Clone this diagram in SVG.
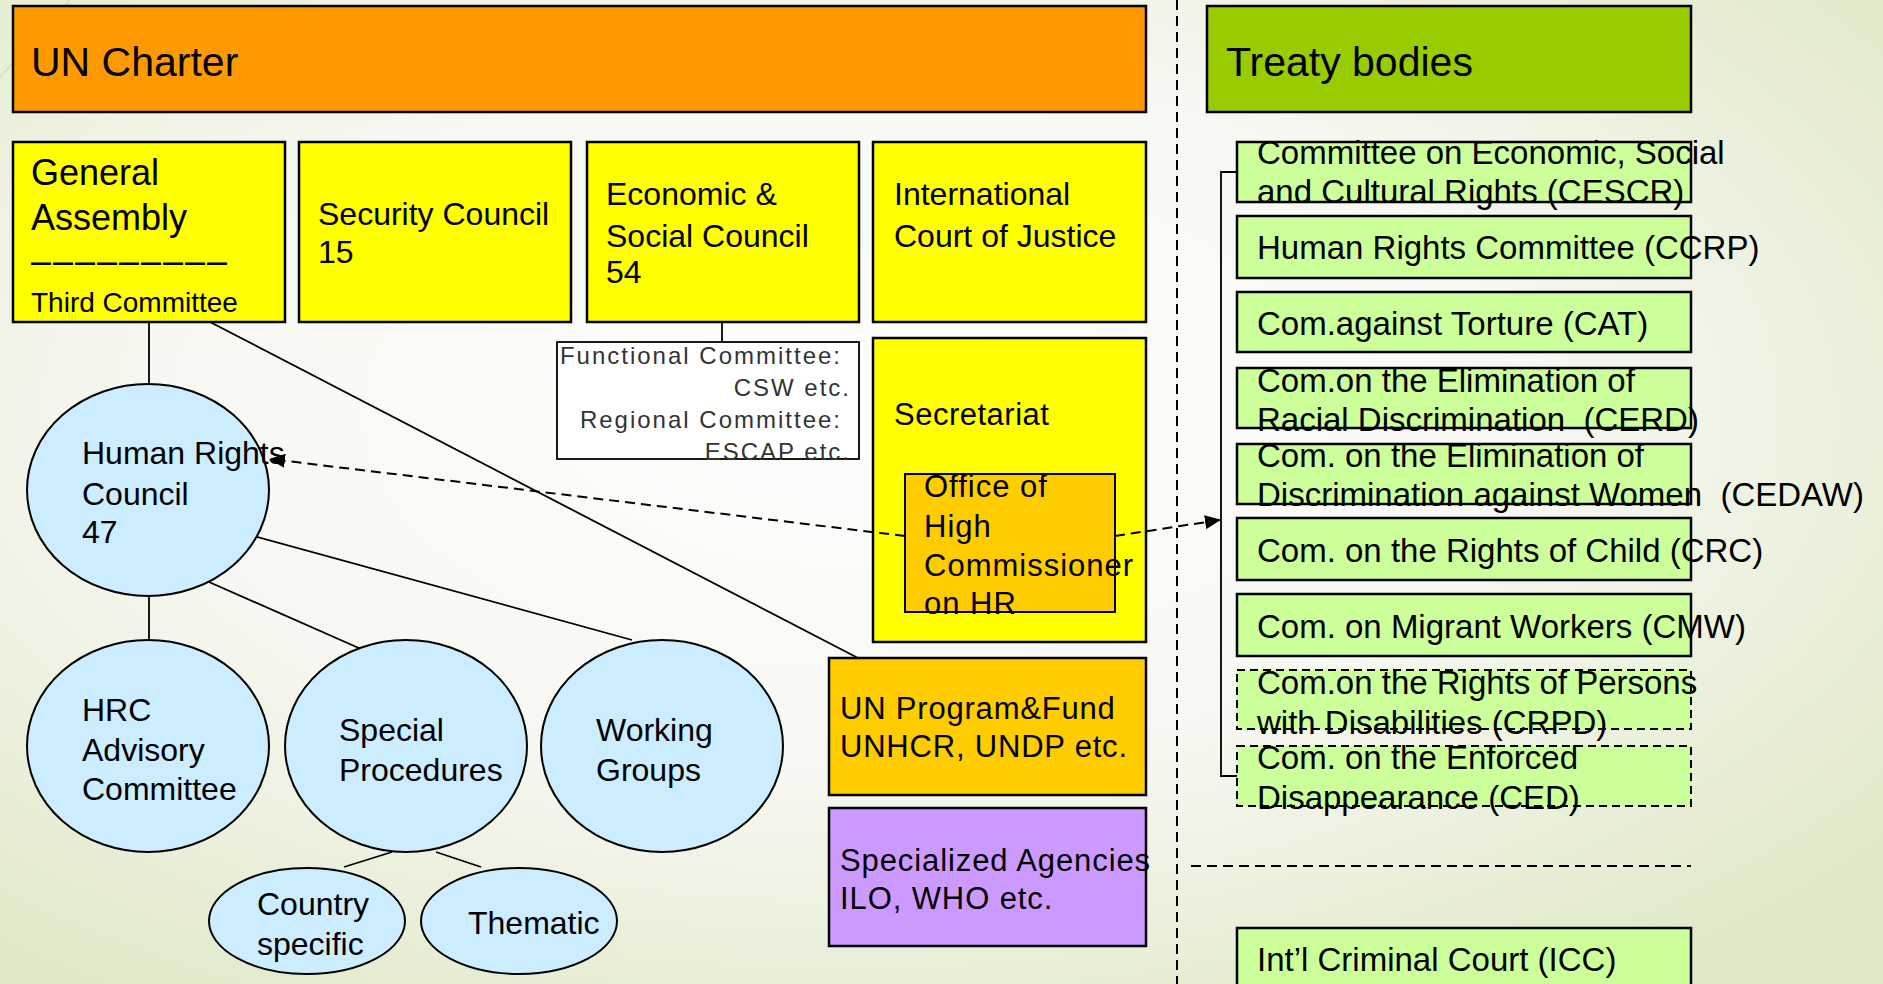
<svg xmlns="http://www.w3.org/2000/svg" width="1883" height="984" viewBox="0 0 1883 984">
<defs>
<radialGradient id="bg" cx="0.45" cy="0.42" r="0.72">
<stop offset="0" stop-color="#fefefd"/>
<stop offset="0.5" stop-color="#f7f8f2"/>
<stop offset="1" stop-color="#dfe8c6"/>
</radialGradient>
<marker id="arr" viewBox="0 0 16 14" refX="15" refY="7" markerWidth="16" markerHeight="14" markerUnits="userSpaceOnUse" orient="auto">
<path d="M0,0 L16,7 L0,14 z" fill="#000"/>
</marker>
<style>
text{font-family:"Liberation Sans",Arial,sans-serif;fill:#000}
.box{stroke:#000;stroke-width:2.5}
.ell{fill:#CCECFF;stroke:#000;stroke-width:2}
.t32{font-size:32px}
.t31{font-size:31px}
.com{font-size:33px}
.tb{fill:#CCFF99;stroke:#000;stroke-width:2.5}
.tbd{fill:#CCFF99;stroke:#000;stroke-width:2;stroke-dasharray:8 5}
.ln{stroke:#000;stroke-width:1.8;fill:none}
.dl{stroke:#000;stroke-width:2;fill:none;stroke-dasharray:10 6}
.fc{font-size:24px;fill:#333;letter-spacing:2px}
</style>
</defs>
<rect x="0" y="0" width="1883" height="984" fill="url(#bg)"/>
<line x1="0" y1="77" x2="70" y2="0" stroke="#d6dacb" stroke-width="1.5"/>

<g id="separators">
<line class="dl" x1="1177" y1="0" x2="1177" y2="984"/>
<line class="dl" x1="1191" y1="866" x2="1691" y2="866"/>
</g>

<g id="un-charter">
<rect class="box" x="13" y="6" width="1133" height="106" fill="#FF9900"/>
<text x="31" y="76" font-size="41">UN Charter</text>
</g>

<g id="general-assembly">
<rect class="box" x="13" y="142" width="272" height="180" fill="#FFFF00"/>
<text x="31" y="185" font-size="36">General</text>
<text x="31" y="230" font-size="36">Assembly</text>
<text x="31" y="273" font-size="36" textLength="196" lengthAdjust="spacing">–––––––––</text>
<text x="31" y="312" font-size="28">Third Committee</text>
</g>

<g id="security-council">
<rect class="box" x="299" y="142" width="272" height="180" fill="#FFFF00"/>
<text class="t32" x="318" y="225">Security Council</text>
<text class="t32" x="318" y="263">15</text>
</g>

<g id="ecosoc">
<rect class="box" x="587" y="142" width="272" height="180" fill="#FFFF00"/>
<text class="t32" x="606" y="205">Economic &amp;</text>
<text class="t32" x="606" y="247">Social Council</text>
<text class="t32" x="606" y="283">54</text>
</g>

<g id="icj">
<rect class="box" x="873" y="142" width="273" height="180" fill="#FFFF00"/>
<text class="t32" x="894" y="205">International</text>
<text class="t32" x="894" y="247">Court of Justice</text>
</g>

<g id="functional-committee">
<rect x="557" y="342" width="302" height="117" fill="#fff" stroke="#000" stroke-width="1.8"/>
<text class="fc" x="842" y="364" text-anchor="end">Functional Committee:</text>
<text class="fc" x="851" y="396" text-anchor="end">CSW etc.</text>
<text class="fc" x="842" y="428" text-anchor="end">Regional Committee:</text>
<text class="fc" x="851" y="460" text-anchor="end">ESCAP etc.</text>
</g>

<g id="secretariat">
<rect class="box" x="873" y="338" width="273" height="304" fill="#FFFF00"/>
<text class="t31" x="894" y="425" letter-spacing="0.5">Secretariat</text>
</g>

<g id="ohchr">
<rect x="905" y="474" width="210" height="138" fill="#FFCC00" stroke="#000" stroke-width="2"/>
<text class="t31" x="924" y="497" letter-spacing="1">Office of</text>
<text class="t31" x="924" y="537" letter-spacing="1">High</text>
<text class="t31" x="924" y="576" letter-spacing="1">Commissioner</text>
<text class="t31" x="924" y="614" letter-spacing="1">on HR</text>
</g>

<g id="un-program-fund">
<rect class="box" x="829" y="658" width="317" height="137" fill="#FFCC00"/>
<text class="t31" x="840" y="719" letter-spacing="0.8">UN Program&amp;Fund</text>
<text class="t31" x="840" y="757" letter-spacing="0.8">UNHCR, UNDP etc.</text>
</g>

<g id="specialized-agencies">
<rect class="box" x="829" y="808" width="317" height="138" fill="#CC99FF"/>
<text class="t31" x="840" y="871" letter-spacing="0.9">Specialized Agencies</text>
<text class="t31" x="840" y="909" letter-spacing="0.9">ILO, WHO etc.</text>
</g>

<g id="connectors">
<line class="ln" x1="149" y1="322" x2="149" y2="384"/>
<line class="ln" x1="210" y1="322" x2="858" y2="658"/>
<line class="ln" x1="149" y1="596" x2="149" y2="640"/>
<line class="ln" x1="209" y1="582" x2="361" y2="649"/>
<line class="ln" x1="254" y1="536" x2="632" y2="640"/>
<line class="ln" x1="392" y1="852" x2="344" y2="867"/>
<line class="ln" x1="436" y1="852" x2="481" y2="867"/>
<line class="ln" x1="722" y1="322" x2="722" y2="342"/>
<path class="ln" d="M1237,172 H1221 V776 H1237"/>
<line x1="905" y1="536" x2="270" y2="459" stroke="#000" stroke-width="2" stroke-dasharray="10 6" marker-end="url(#arr)"/>
<line x1="1115" y1="536" x2="1220" y2="520" stroke="#000" stroke-width="2" stroke-dasharray="10 6" marker-end="url(#arr)"/>
</g>

<g id="hrc">
<ellipse class="ell" cx="148" cy="490" rx="121" ry="106"/>
<text class="t32" x="82" y="464">Human Rights</text>
<text class="t32" x="82" y="505">Council</text>
<text class="t32" x="82" y="543">47</text>
</g>

<g id="hrc-advisory">
<ellipse class="ell" cx="148" cy="746" rx="121" ry="106"/>
<text class="t32" x="82" y="721">HRC</text>
<text class="t32" x="82" y="761">Advisory</text>
<text class="t32" x="82" y="800">Committee</text>
</g>

<g id="special-procedures">
<ellipse class="ell" cx="406" cy="746" rx="121" ry="106"/>
<text class="t32" x="339" y="741">Special</text>
<text class="t32" x="339" y="781">Procedures</text>
</g>

<g id="working-groups">
<ellipse class="ell" cx="662" cy="746" rx="121" ry="106"/>
<text class="t32" x="596" y="741">Working</text>
<text class="t32" x="596" y="781">Groups</text>
</g>

<g id="country-specific">
<ellipse class="ell" cx="307" cy="921" rx="98" ry="53"/>
<text class="t32" x="257" y="915">Country</text>
<text class="t32" x="257" y="955">specific</text>
</g>

<g id="thematic">
<ellipse class="ell" cx="519" cy="921" rx="98" ry="53"/>
<text class="t32" x="468" y="934">Thematic</text>
</g>

<g id="treaty-bodies">
<rect class="box" x="1207" y="6" width="484" height="106" fill="#99CC00"/>
<text x="1226" y="76" font-size="41">Treaty bodies</text>
</g>

<g id="cescr">
<rect class="tb" x="1237" y="142" width="454" height="60"/>
<text class="com" x="1257" y="164">Committee on Economic, Social</text>
<text class="com" x="1257" y="203">and Cultural Rights (CESCR)</text>
</g>
<g id="ccpr">
<rect class="tb" x="1237" y="216" width="454" height="62"/>
<text class="com" x="1257" y="259">Human Rights Committee (CCRP)</text>
</g>
<g id="cat">
<rect class="tb" x="1237" y="292" width="454" height="60"/>
<text class="com" x="1257" y="335">Com.against Torture (CAT)</text>
</g>
<g id="cerd">
<rect class="tb" x="1237" y="368" width="454" height="60"/>
<text class="com" x="1257" y="392">Com.on the Elimination of</text>
<text class="com" x="1257" y="431" style="white-space:pre">Racial Discrimination  (CERD)</text>
</g>
<g id="cedaw">
<rect class="tb" x="1237" y="444" width="454" height="60"/>
<text class="com" x="1257" y="467">Com. on the Elimination of</text>
<text class="com" x="1257" y="506" style="white-space:pre">Discrimination against Women  (CEDAW)</text>
</g>
<g id="crc">
<rect class="tb" x="1237" y="518" width="454" height="62"/>
<text class="com" x="1257" y="562">Com. on the Rights of Child (CRC)</text>
</g>
<g id="cmw">
<rect class="tb" x="1237" y="594" width="454" height="62"/>
<text class="com" x="1257" y="638">Com. on Migrant Workers (CMW)</text>
</g>
<g id="crpd">
<rect class="tbd" x="1237" y="670" width="454" height="59"/>
<text class="com" x="1257" y="694">Com.on the Rights of Persons</text>
<text class="com" x="1257" y="734">with Disabilities (CRPD)</text>
</g>
<g id="ced">
<rect class="tbd" x="1237" y="746" width="454" height="60"/>
<text class="com" x="1257" y="769">Com. on the Enforced</text>
<text class="com" x="1257" y="809">Disappearance (CED)</text>
</g>
<g id="icc">
<rect class="tb" x="1237" y="928" width="454" height="70"/>
<text class="com" x="1257" y="971">Int’l Criminal Court (ICC)</text>
</g>
</svg>
